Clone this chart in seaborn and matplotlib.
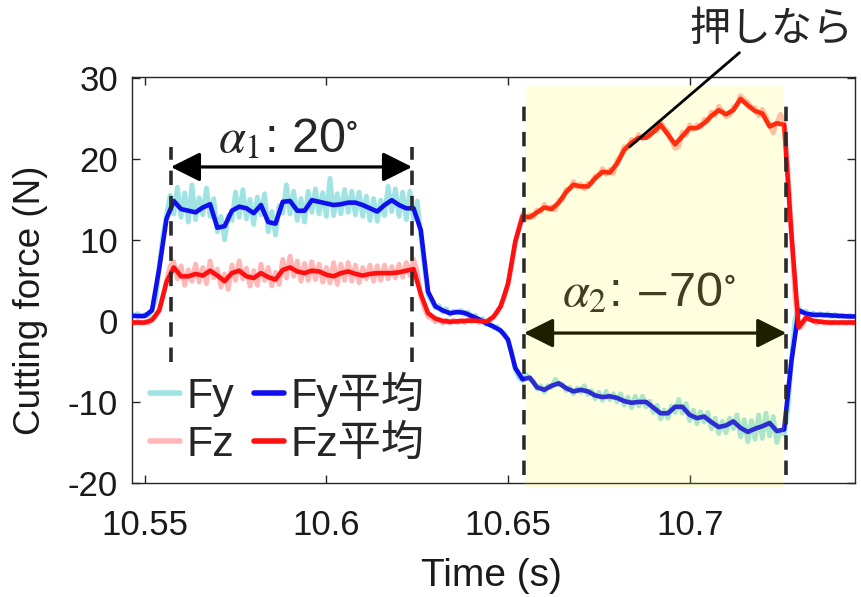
import numpy as np
import pandas as pd
import matplotlib
matplotlib.use("Agg")
import matplotlib.pyplot as plt
from matplotlib.patches import Rectangle
from matplotlib.lines import Line2D
import seaborn as sns

# ---------------- data ----------------
T0 = 10.546          # first sample time (s)
DT_RAW = 0.001       # raw sampling step (s)
DT_AVG = 0.002       # averaged-curve step (s)

fy_raw = [
    0.8, 0.6, 0.9, 0.5, 0.8, 0.6, 1.4, 2.5, 6.8, 10.5,
    13.0, 15.5, 13.2, 16.5, 12.8, 15.8, 12.2, 16.8, 12.5, 15.2,
    13.1, 16.4, 12.9, 15.1, 11.0, 12.9, 10.0, 13.0, 12.4, 15.9,
    12.8, 16.2, 12.6, 15.0, 11.9, 15.3, 13.1, 15.7, 11.0, 13.5,
    10.6, 14.2, 13.3, 16.8, 13.2, 16.0, 12.4, 15.1, 12.2, 16.0,
    13.4, 16.3, 13.2, 15.8, 12.9, 17.6, 13.0, 15.7, 13.2, 16.2,
    13.4, 16.0, 13.1, 15.9, 12.9, 15.4, 12.4, 15.1, 12.3, 14.9,
    13.0, 16.6, 13.5, 16.3, 12.9, 15.9, 12.5, 16.0, 12.6, 14.8,
    10.5, 6.5, 3.2, 2.4, 1.6, 1.9, 1.1, 1.5, 0.8, 1.2,
    1.0, 1.3, 0.8, 1.1, 0.5, 0.7, 0.1, 0.3, -0.4, -0.2,
    -0.8, -0.7, -1.3, -1.5, -2.5, -3.9, -6.0, -7.0, -7.4, -6.6,
    -7.2, -7.4, -8.4, -8.0, -8.8, -8.0, -8.2, -7.2, -7.9, -7.8,
    -8.6, -8.2, -9.0, -8.3, -8.8, -8.0, -9.1, -8.6, -9.6, -8.8,
    -9.8, -8.7, -9.7, -9.0, -10.0, -9.0, -10.4, -9.4, -10.7, -9.3,
    -10.5, -9.3, -10.6, -9.9, -11.3, -10.4, -12.1, -11.0, -12.0, -10.5,
    -11.3, -9.7, -11.4, -10.2, -12.3, -11.0, -12.7, -11.2, -12.5, -11.3,
    -13.3, -12.0, -13.9, -12.4, -13.8, -12.0, -13.3, -11.6, -14.3, -12.2,
    -14.9, -12.3, -14.6, -11.6, -14.5, -11.4, -14.2, -11.8, -15.0, -13.5,
    -14.0, -11.0, -5.0, 0.2, 1.6, 1.1, 1.2, 0.6, 1.0, 0.6,
    0.9, 0.6, 0.9, 0.5, 0.8, 0.5, 0.7, 0.5, 0.7, 0.5,
    0.6,
]

fz_raw = [
    -0.1, -0.3, 0.0, -0.3, -0.1, -0.3, 0.2, 0.5, 1.4, 3.0,
    5.0, 6.8, 7.3, 5.2, 6.8, 4.4, 6.3, 4.9, 7.0, 4.8,
    6.6, 4.6, 7.4, 5.3, 6.4, 4.2, 5.8, 3.9, 6.9, 5.0,
    7.4, 5.2, 6.5, 4.3, 6.2, 4.4, 7.0, 5.0, 6.6, 4.3,
    6.0, 4.5, 7.6, 5.3, 8.0, 5.5, 7.4, 4.9, 7.1, 5.0,
    7.3, 5.1, 7.0, 4.8, 6.6, 4.7, 7.2, 4.5, 7.0, 5.0,
    7.2, 4.9, 6.9, 4.7, 6.6, 5.2, 6.9, 4.9, 6.8, 5.0,
    6.9, 5.2, 6.7, 5.3, 7.0, 5.4, 7.2, 5.6, 7.6, 6.2,
    3.0, 1.5, 0.5, 0.3, -0.1, 0.2, -0.3, 0.1, -0.3, 0.1,
    -0.2, 0.1, -0.2, 0.2, -0.1, 0.1, -0.2, 0.1, -0.3, 0.0,
    0.5, 1.0, 1.9, 2.9, 4.5, 6.8, 9.6, 11.5, 13.2, 12.6,
    13.1, 12.8, 13.7, 13.5, 14.4, 13.8, 14.1, 13.7, 14.9, 15.0,
    16.2, 16.3, 17.2, 16.5, 16.9, 16.3, 17.0, 17.0, 17.9, 18.0,
    18.8, 18.1, 18.7, 18.2, 19.8, 20.4, 21.5, 21.5, 22.4, 22.1,
    23.0, 22.5, 23.1, 22.8, 23.7, 23.4, 24.6, 23.8, 23.4, 22.2,
    21.3, 21.5, 23.3, 22.9, 24.2, 23.6, 24.2, 23.9, 24.9, 24.6,
    25.8, 25.4, 26.5, 25.9, 25.2, 25.4, 26.4, 26.6, 27.8, 27.3,
    27.0, 26.3, 26.3, 25.3, 26.1, 25.2, 24.2, 23.2, 24.5, 25.5,
    24.6, 19.0, 10.8, 2.8, -0.9, -0.6, 0.4, 0.2, 0.1, -0.3,
    0.0, -0.3, -0.1, -0.3, -0.1, -0.3, -0.1, -0.3, -0.1, -0.3,
    -0.1,
]

fy_avg = [
    0.65, 0.6, 0.6, 1.3, 6.5, 12.6, 14.8, 13.8, 13.6, 13.4,
    14.0, 14.4, 11.5, 11.7, 13.6, 14.1, 13.9, 13.3, 14.3, 12.2,
    12.0, 14.7, 14.8, 13.6, 13.6, 14.9, 14.7, 14.5, 14.3, 14.4,
    14.6, 14.6, 14.3, 13.9, 13.5, 14.3, 14.9, 14.3, 13.9, 13.9,
    11.2, 3.6, 1.8, 1.3, 0.95, 1.1, 1.0, 0.6, 0.2, -0.3,
    -0.7, -1.2, -2.3, -5.8, -7.2, -7.0, -8.2, -8.5, -8.0, -7.7,
    -8.3, -8.7, -8.5, -8.7, -9.2, -9.4, -9.3, -9.5, -9.9, -10.1,
    -10.0, -10.0, -10.7, -11.4, -11.4, -10.6, -10.6, -11.6, -12.0, -11.8,
    -12.5, -13.1, -12.9, -12.4, -13.2, -13.7, -13.3, -13.0, -12.6, -13.6,
    -13.4, -5.0, 1.3, 0.9, 0.75, 0.75, 0.7, 0.65, 0.6, 0.55,
    0.55,
]

fz_avg = [
    -0.2, -0.2, -0.2, 0.1, 1.3, 4.8, 6.6, 5.5, 5.5, 5.8,
    5.6, 6.2, 5.6, 4.9, 5.9, 6.2, 5.5, 5.3, 5.9, 5.4,
    5.1, 6.3, 6.6, 6.1, 5.9, 6.2, 6.1, 5.7, 5.5, 5.9,
    6.1, 5.8, 5.6, 5.8, 5.9, 5.9, 5.9, 6.0, 6.2, 6.4,
    3.3, 0.95, 0.3, 0.0, -0.1, -0.05, 0.0, 0.05, 0.0, -0.1,
    0.5, 1.8, 4.6, 9.8, 12.9, 12.8, 13.4, 14.0, 13.8, 14.6,
    15.9, 16.8, 16.6, 16.6, 17.6, 18.4, 18.3, 19.4, 21.1, 22.0,
    22.6, 22.6, 23.3, 24.2, 23.0, 21.8, 22.8, 23.8, 23.8, 24.4,
    25.3, 26.0, 25.5, 26.0, 27.4, 26.6, 25.9, 25.6, 24.0, 24.4,
    24.2, 10.8, -0.8, 0.4, 0.0, -0.1, -0.2, -0.2, -0.2, -0.2,
    -0.2,
]

labels = ["Fy", "Fz", "Fy平均", "Fz平均"]
x_ticks = [10.55, 10.6, 10.65, 10.7]
x_tick_labels = ["10.55", "10.6", "10.65", "10.7"]
y_ticks = [-20, -10, 0, 10, 20, 30]
y_tick_labels = ["-20", "-10", "0", "10", "20", "30"]

# interval markers (s) and annotation values
alpha1_span = (10.5572, 10.6236)
alpha2_span = (10.6544, 10.7266)
alpha1_text = r"$\alpha_1$: 20$^{\circ}$"
alpha2_text = r"$\alpha_2$: $-$70$^{\circ}$"
note_text = "押しなら"

# ---------------- build tables ----------------
t_raw = T0 + DT_RAW * np.arange(len(fy_raw))
t_avg = T0 + DT_AVG * np.arange(len(fy_avg))
df_raw = pd.DataFrame({"time": t_raw, "Fy": fy_raw, "Fz": fz_raw})
df_avg = pd.DataFrame({"time": t_avg, "Fy": fy_avg, "Fz": fz_avg})

# ---------------- style ----------------
sns.set_style("ticks")
plt.rcParams["font.family"] = ["Liberation Sans", "Noto Sans CJK JP"]
plt.rcParams["mathtext.fontset"] = "stix"
plt.rcParams["axes.unicode_minus"] = True

c_fy_raw, c_fz_raw = "#40C8C8", "#FF7070"
c_fy_avg, c_fz_avg = "#1010EE", "#FF1010"

fig = plt.figure(figsize=(8.61, 5.97), dpi=100)
ax = fig.add_axes([0.1533, 0.191, 0.8397, 0.680])

sns.lineplot(data=df_raw, x="time", y="Fy", ax=ax, color=c_fy_raw, alpha=0.5,
             lw=3.5, estimator=None, sort=False, zorder=2)
sns.lineplot(data=df_raw, x="time", y="Fz", ax=ax, color=c_fz_raw, alpha=0.5,
             lw=3.5, estimator=None, sort=False, zorder=2)
sns.lineplot(data=df_avg, x="time", y="Fy", ax=ax, color=c_fy_avg,
             lw=3.3, estimator=None, sort=False, zorder=3)
sns.lineplot(data=df_avg, x="time", y="Fz", ax=ax, color=c_fz_avg,
             lw=3.3, estimator=None, sort=False, zorder=3)
for ln in ax.get_lines():
    ln.set_solid_joinstyle("round")
    ln.set_solid_capstyle("round")

# dashed interval markers
dash = (0, (4.0, 3.0))
ax.vlines(list(alpha1_span), -5.1, 21.5, colors="#2a2a2a", lw=2.6,
          linestyles=[dash], zorder=5)
ax.vlines(list(alpha2_span), -19.0, 26.5, colors="#2a2a2a", lw=2.6,
          linestyles=[dash], zorder=5)

# double arrows
arrow_kw = dict(arrowstyle="<|-|>,head_length=0.6,head_width=0.3",
                mutation_scale=30, lw=2.3, color="black", shrinkA=0, shrinkB=0)
ax.annotate("", xy=(alpha1_span[0], 19.0), xytext=(alpha1_span[1], 19.0),
            arrowprops=arrow_kw, zorder=6)
ax.annotate("", xy=(alpha2_span[0], -1.5), xytext=(alpha2_span[1], -1.5),
            arrowprops=arrow_kw, zorder=6)
ax.text(10.5894, 22.4, alpha1_text, ha="center", va="center", fontsize=35,
        zorder=6)
ax.text(10.6887, 3.3, alpha2_text, ha="center", va="center", fontsize=35,
        zorder=6)

# highlighted region (light yellow overlay)
ax.add_patch(Rectangle((10.6546, -20.6), 10.7261 - 10.6546, 49.6,
                       facecolor="#FFFF00", alpha=0.12, lw=0, zorder=10,
                       clip_on=False))

# callout
ax.plot([10.7137, 10.6835], [33.1, 21.5], color="black", lw=2.0,
        clip_on=False, zorder=11)
ax.text(10.7000, 35.9, note_text, ha="left", va="center", fontsize=29.5,
        clip_on=False, zorder=11)

# axes
ax.set_xlim(10.5465, 10.7455)
ax.set_ylim(-20, 30.1)
ax.set_xticks(x_ticks)
ax.set_xticklabels(x_tick_labels)
ax.set_yticks(y_ticks)
ax.set_yticklabels(y_tick_labels)
ax.tick_params(direction="in", length=6, width=1.0, top=True, right=True,
               labelsize=25, colors="#262626", labelcolor="#1a1a1a")
ax.tick_params(axis="x", pad=19)
ax.tick_params(axis="y", pad=10)
for s in ax.spines.values():
    s.set_color("#262626")
    s.set_linewidth(1.0)
    s.set_visible(True)

ax.set_xlabel("Time (s)", fontsize=28, color="#1a1a1a")
ax.set_ylabel("Cutting force (N)", fontsize=26.5, color="#1a1a1a")
ax.xaxis.set_label_coords(0.4965, -0.23)
ax.xaxis.label.set_va("center")
ax.yaxis.set_label_coords(-0.141, 0.45)
ax.yaxis.label.set_va("center")

handles = [
    Line2D([], [], color=c_fy_raw, alpha=0.5, lw=4),
    Line2D([], [], color=c_fz_raw, alpha=0.5, lw=4),
    Line2D([], [], color=c_fy_avg, lw=4),
    Line2D([], [], color=c_fz_avg, lw=4),
]
leg = ax.legend(handles, labels, ncol=2, loc="lower left",
                bbox_to_anchor=(0.025, 0.045), frameon=False, fontsize=31,
                handlelength=0.7, handletextpad=0.15, columnspacing=0.45,
                labelspacing=0.18, borderpad=0, borderaxespad=0)
leg.set_zorder(12)

fig.savefig("out.png", dpi=100)
